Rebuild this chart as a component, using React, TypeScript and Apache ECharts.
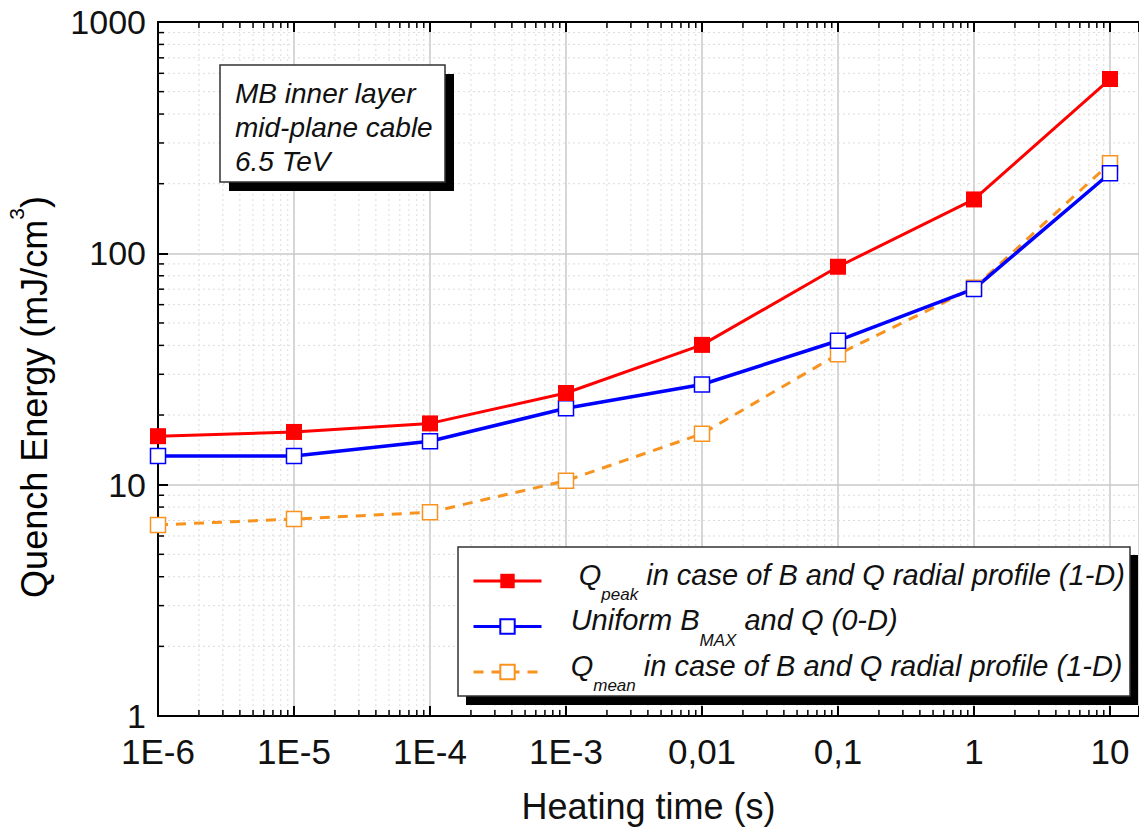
import React, { useEffect, useRef } from 'react';
import * as echarts from 'echarts';

// ---- data ----
const HEATING_TIME = [1e-6, 1e-5, 1e-4, 1e-3, 0.01, 0.1, 1, 10];
const Q_PEAK = [16.2, 16.9, 18.4, 24.9, 40.2, 87.5, 171, 567];
const UNIFORM_BMAX = [13.3, 13.3, 15.4, 21.4, 27.1, 41.9, 70.2, 222];
const Q_MEAN = [6.7, 7.1, 7.6, 10.4, 16.6, 36.6, 71, 245];

const X_TICK_LABELS = ['1E-6', '1E-5', '1E-4', '1E-3', '0,01', '0,1', '1', '10'];
const X_TICK_EXPONENTS = [-6, -5, -4, -3, -2, -1, 0, 1];
const Y_TICK_LABELS = ['1', '10', '100', '1000'];
const Y_TICK_EXPONENTS = [0, 1, 2, 3];
const MINOR_MULTIPLIERS = [2, 3, 4, 5, 6, 7, 8, 9];
const X_MINOR_DECADES = [-6, -5, -4, -3, -2, -1, 0];
const Y_MINOR_DECADES = [0, 1, 2];

const SERIES_NAMES = {
  peak: 'Q_peak in case of B and Q radial profile (1-D)',
  uniform: 'Uniform B_MAX and Q (0-D)',
  mean: 'Q_mean in case of B and Q radial profile (1-D)',
};

const X_MIN = 1e-6;
const X_MAX = 16.34;
const Y_MIN = 1;
const Y_MAX = 1000;

const FONT = 'Liberation Sans, Arial, Helvetica, sans-serif';

function minorValues(decades: number[]) {
  const out: number[] = [];
  decades.forEach((e) => MINOR_MULTIPLIERS.forEach((m) => out.push(m * Math.pow(10, e))));
  return out;
}

function labelFor(v: number, exps: number[], labels: string[]) {
  const l = Math.log10(v);
  const r = Math.round(l);
  if (Math.abs(l - r) > 0.01) return '';
  const i = exps.indexOf(r);
  return i >= 0 ? labels[i] : '';
}

export default function App() {
  const ref = useRef<HTMLDivElement>(null);

  useEffect(() => {
    if (!ref.current) return;
    const chart = echarts.init(ref.current, undefined, { renderer: 'svg' });

    const xMinor = minorValues(X_MINOR_DECADES).map((x) => [x, Y_MIN]);
    const yMinor = minorValues(Y_MINOR_DECADES).map((y) => [X_MIN, y]);

    const axisLineStyle = { lineStyle: { color: '#000', width: 2 } };

    const legendRich = {
      m: { fontSize: 29, fontStyle: 'italic', fontFamily: FONT, color: '#111', lineHeight: 42, verticalAlign: 'top' },
      s: { fontSize: 17, fontStyle: 'italic', fontFamily: FONT, color: '#111', lineHeight: 12, padding: [26, 0, 0, 0], verticalAlign: 'top' },
    };

    const option: any = {
      animation: false,
      backgroundColor: '#fff',
      grid: { left: 158, top: 22, right: 0, bottom: 113, containLabel: false, outerBoundsMode: 'none' },
      xAxis: [
        {
          type: 'log',
          logBase: 10,
          min: X_MIN,
          max: X_MAX,
          position: 'bottom',
          axisLine: axisLineStyle,
          axisTick: { inside: true, length: 10, lineStyle: { color: '#000', width: 2 } },
          axisLabel: {
            formatter: (v: number) => labelFor(v, X_TICK_EXPONENTS, X_TICK_LABELS),
            fontSize: 35,
            lineHeight: 35,
            fontFamily: FONT,
            color: '#111',
            margin: 18,
          },
          splitLine: { show: true, lineStyle: { color: '#c8c8c8', width: 1.5 } },
          name: 'Heating time (s)',
          nameLocation: 'middle',
          nameGap: 72,
          nameTextStyle: { fontSize: 36, fontFamily: FONT, color: '#111' },
        },
        {
          type: 'log',
          logBase: 10,
          min: X_MIN,
          max: X_MAX,
          position: 'top',
          axisLine: axisLineStyle,
          axisTick: { inside: true, length: 10, lineStyle: { color: '#000', width: 2 } },
          axisLabel: { show: false },
          splitLine: { show: false },
        },
      ],
      yAxis: {
        type: 'log',
        logBase: 10,
        min: Y_MIN,
        max: Y_MAX,
        axisLine: axisLineStyle,
        axisTick: { inside: true, length: 10, lineStyle: { color: '#000', width: 2 } },
        axisLabel: {
          formatter: (v: number) => labelFor(v, Y_TICK_EXPONENTS, Y_TICK_LABELS),
          fontSize: 34,
          lineHeight: 24,
          fontFamily: FONT,
          color: '#111',
          margin: 12,
        },
        splitLine: { show: true, lineStyle: { color: '#c8c8c8', width: 1.5 } },
      },
      legend: {
        orient: 'vertical',
        left: 472,
        top: 560,
        padding: 0,
        itemWidth: 68,
        itemHeight: 18,
        itemGap: 2.5,
        lineStyle: { width: 3 },
        data: [SERIES_NAMES.peak, SERIES_NAMES.uniform, SERIES_NAMES.mean],
        formatter: (name: string) => {
          if (name === SERIES_NAMES.peak) return '{m|    Q}{s|peak}{m| in case of B and Q radial profile (1-D)}';
          if (name === SERIES_NAMES.uniform) return '{m|   Uniform B}{s|MAX}{m| and Q (0-D)}';
          return '{m|   Q}{s|mean}{m| in case of B and Q radial profile (1-D)}';
        },
        textStyle: { fontSize: 29, fontStyle: 'italic', fontFamily: FONT, color: '#111', rich: legendRich },
      },
      graphic: [
        {
          type: 'text',
          x: 6,
          y: 397,
          rotation: Math.PI / 2,
          z: 3,
          style: {
            text: '{a|Quench Energy (mJ/cm}{p|3}{a|)}',
            align: 'center',
            verticalAlign: 'top',
            rich: {
              a: { fontSize: 36, fontFamily: FONT, color: '#111', lineHeight: 38, padding: [10, 0, 0, 0], verticalAlign: 'top' },
              p: { fontSize: 21, fontFamily: FONT, color: '#111', lineHeight: 21, verticalAlign: 'top' },
            },
          },
        },
        { type: 'rect', z: 3, shape: { x: 229, y: 74, width: 225, height: 117 }, style: { fill: '#000' } },
        { type: 'rect', z: 3, shape: { x: 220, y: 65, width: 225, height: 117 }, style: { fill: '#fff', stroke: '#333', lineWidth: 1.5 } },
        {
          type: 'text',
          z: 3,
          x: 235,
          y: 76,
          style: {
            text: 'MB inner layer\nmid-plane cable\n6.5 TeV',
            fontSize: 28,
            fontStyle: 'italic',
            fontFamily: FONT,
            fill: '#111',
            lineHeight: 34,
          },
        },
        { type: 'rect', z: 3, shape: { x: 466, y: 555, width: 672, height: 150 }, style: { fill: '#000' } },
        { type: 'rect', z: 3, shape: { x: 458, y: 547, width: 672, height: 149 }, style: { fill: '#fff', stroke: '#333', lineWidth: 1.5 } },
      ],
      series: [
        {
          type: 'custom',
          name: 'minorX',
          silent: true,
          z: 1,
          data: xMinor,
          renderItem: (_p: any, api: any) => {
            const x = api.value(0);
            const b = api.coord([x, Y_MIN]);
            const t = api.coord([x, Y_MAX]);
            return {
              type: 'group',
              children: [
                { type: 'line', shape: { x1: b[0], y1: b[1], x2: t[0], y2: t[1] }, style: { stroke: '#dcdcdc', lineWidth: 1, lineDash: [2, 3] } },
                { type: 'line', shape: { x1: b[0], y1: b[1], x2: b[0], y2: b[1] - 6 }, style: { stroke: '#000', lineWidth: 1.5 } },
                { type: 'line', shape: { x1: t[0], y1: t[1], x2: t[0], y2: t[1] + 6 }, style: { stroke: '#000', lineWidth: 1.5 } },
              ],
            };
          },
        },
        {
          type: 'custom',
          name: 'minorY',
          silent: true,
          z: 1,
          data: yMinor,
          renderItem: (_p: any, api: any) => {
            const y = api.value(1);
            const l = api.coord([X_MIN, y]);
            const r = api.coord([X_MAX, y]);
            return {
              type: 'group',
              children: [
                { type: 'line', shape: { x1: l[0], y1: l[1], x2: r[0], y2: r[1] }, style: { stroke: '#dcdcdc', lineWidth: 1, lineDash: [2, 3] } },
                { type: 'line', shape: { x1: l[0], y1: l[1], x2: l[0] + 6, y2: l[1] }, style: { stroke: '#000', lineWidth: 1.5 } },
              ],
            };
          },
        },
        {
          type: 'line',
          name: SERIES_NAMES.mean,
          z: 3,
          data: HEATING_TIME.map((x, i) => [x, Q_MEAN[i]]),
          symbol: 'rect',
          symbolSize: 15,
          showAllSymbol: true,
          itemStyle: { color: '#fff', borderColor: '#f7931e', borderWidth: 1.5 },
          lineStyle: { color: '#f7931e', width: 3, type: [10, 8] },
        },
        {
          type: 'line',
          name: SERIES_NAMES.uniform,
          z: 3,
          data: HEATING_TIME.map((x, i) => [x, UNIFORM_BMAX[i]]),
          symbol: 'rect',
          symbolSize: 15,
          showAllSymbol: true,
          itemStyle: { color: '#fff', borderColor: '#0000ff', borderWidth: 1.5 },
          lineStyle: { color: '#0000ff', width: 3.5 },
        },
        {
          type: 'line',
          name: SERIES_NAMES.peak,
          z: 3,
          data: HEATING_TIME.map((x, i) => [x, Q_PEAK[i]]),
          symbol: 'rect',
          symbolSize: 16,
          showAllSymbol: true,
          itemStyle: { color: '#ff0000' },
          lineStyle: { color: '#ff0000', width: 3 },
        },
      ],
    };

    chart.setOption(option);
    return () => chart.dispose();
  }, []);

  return <div ref={ref} style={{ position: 'absolute', left: 0, top: 0, width: 1139, height: 829 }} />;
}
